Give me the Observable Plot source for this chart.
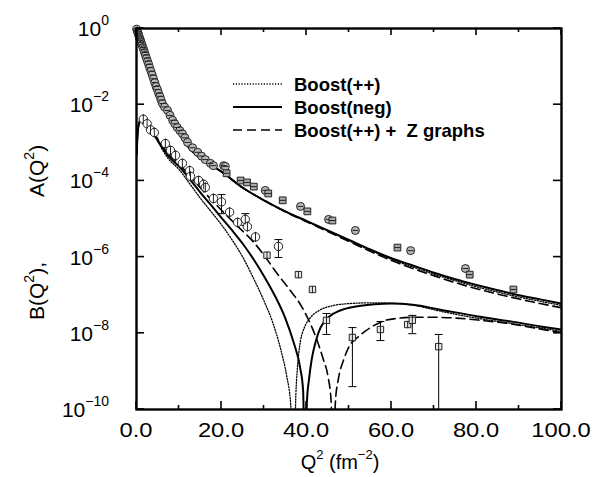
<!DOCTYPE html>
<html><head><meta charset="utf-8">
<script src="https://cdn.jsdelivr.net/npm/d3@7"></script>
<script src="https://cdn.jsdelivr.net/npm/@observablehq/plot@0.6"></script>
<style>
body{margin:0;background:#fff;}
#wrap{width:594px;height:477px;}
</style></head><body><div id="wrap"></div>
<script>
// ---------- data (y stored as log10) ----------
const xMajorTicks = [0, 20, 40, 60, 80, 100];
const xMinorTicks = [10, 30, 50, 70, 90];
const yTickExps = [0, -2, -4, -6, -8, -10];
const legendLabels = ["Boost(++)", "Boost(neg)", "Boost(++) +  Z graphs"];

// A(Q^2) theory curves
const aQ      = [0, 1, 2.5, 5, 7.5, 10, 12.5, 15, 17.5, 20, 25, 30, 35, 40, 45, 50, 55, 60, 65, 70, 75, 80, 85, 90, 95, 100];
const aNegLog = [0, -0.33, -0.85, -1.7, -2.3, -2.75, -3.15, -3.4, -3.58, -3.76, -4.18, -4.51, -4.8, -5.05, -5.3, -5.55, -5.8, -6.03, -6.22, -6.41, -6.58, -6.73, -6.87, -7.0, -7.11, -7.22];
const aPPLog  = [0, -0.33, -0.85, -1.7, -2.3, -2.75, -3.15, -3.4, -3.58, -3.76, -4.18, -4.51, -4.8, -5.06, -5.31, -5.57, -5.82, -6.06, -6.26, -6.45, -6.62, -6.78, -6.92, -7.05, -7.16, -7.27];
const aZLog   = [0, -0.33, -0.85, -1.7, -2.3, -2.75, -3.15, -3.4, -3.58, -3.76, -4.18, -4.51, -4.81, -5.07, -5.33, -5.59, -5.85, -6.09, -6.3, -6.49, -6.67, -6.83, -6.97, -7.1, -7.22, -7.33];

// B(Q^2) theory curves (each dips through a zero)
const bNegQ   = [0.05, 0.3, 0.7, 1.2, 1.8, 3, 5, 7.5, 10, 12.5, 15, 17.5, 20, 22.5, 25, 27.5, 30, 32.5, 35, 37, 38.5, 39.2, 39.7, 40.1, 40.6, 41.2, 42.2, 43.3, 44.8, 46.4, 49, 52, 56, 60, 65, 71.5, 80, 88.7, 95, 100];
const bNegLog = [-3.3, -2.7, -2.45, -2.37, -2.36, -2.55, -2.93, -3.35, -3.62, -3.95, -4.3, -4.63, -4.97, -5.3, -5.65, -6.05, -6.5, -7.0, -7.6, -8.25, -8.9, -9.5, -12, -9.8, -9.2, -8.7, -8.2, -7.85, -7.62, -7.48, -7.36, -7.29, -7.24, -7.22, -7.25, -7.38, -7.55, -7.7, -7.82, -7.9];
const bPPQ    = [0.05, 0.3, 0.7, 1.2, 1.8, 3, 5, 7.5, 10, 12.5, 15, 17.5, 20, 22.5, 25, 27.5, 30, 32, 34, 35.3, 36.3, 37, 37.5, 37.8, 38.1, 38.6, 39.5, 40.9, 43, 46.4, 50, 55, 60, 65, 71.5, 80, 88.7, 100];
const bPPLog  = [-3.3, -2.72, -2.46, -2.38, -2.37, -2.57, -2.97, -3.42, -3.7, -4.07, -4.45, -4.8, -5.15, -5.55, -6.0, -6.55, -7.15, -7.7, -8.45, -9.1, -9.9, -12, -9.6, -9.0, -8.6, -8.19, -7.85, -7.59, -7.4, -7.27, -7.22, -7.2, -7.21, -7.26, -7.42, -7.6, -7.75, -7.95];
const bZQ     = [0.05, 0.3, 0.7, 1.2, 1.8, 3, 5, 7.5, 10, 12.5, 15, 17.5, 20, 22.5, 25, 27.5, 30, 33, 36, 38.6, 40.5, 42.5, 44, 45, 45.8, 46.3, 46.8, 47.5, 48.7, 50, 52, 54, 55.8, 58, 62, 65, 70, 75, 81, 88, 94, 100];
const bZLog   = [-3.3, -2.7, -2.45, -2.36, -2.35, -2.53, -2.9, -3.3, -3.55, -3.87, -4.18, -4.48, -4.77, -5.05, -5.32, -5.6, -5.95, -6.42, -6.85, -7.25, -7.65, -8.19, -8.7, -9.1, -9.8, -12, -9.8, -9.2, -8.71, -8.35, -8.11, -7.93, -7.8, -7.68, -7.6, -7.58, -7.58, -7.6, -7.66, -7.75, -7.87, -7.98];

// A(Q^2) data
const aCircQ   = [0.05, 0.2, 0.35, 0.5, 0.65, 0.8, 0.95, 1.1, 1.3, 1.5, 1.7, 1.9, 2.1, 2.35, 2.6, 2.85, 3.1, 3.4, 3.7, 4.0, 4.3, 4.6, 4.9, 5.2, 5.5, 5.8, 6.1, 6.6, 7.3, 7.9, 8.5, 9.0, 9.6, 10.2, 10.8, 11.4, 12.0, 13.2, 14.4, 15.3, 16.2, 17.4, 18.1, 20.5, 20.9, 30.3, 38.6, 45.2, 51.5, 64.5, 77.4];
const aCircLog = [-0.02, -0.07, -0.12, -0.17, -0.22, -0.27, -0.32, -0.37, -0.43, -0.5, -0.56, -0.63, -0.7, -0.78, -0.86, -0.94, -1.03, -1.12, -1.22, -1.32, -1.42, -1.52, -1.6, -1.7, -1.78, -1.88, -1.97, -2.06, -2.15, -2.28, -2.41, -2.5, -2.6, -2.68, -2.76, -2.87, -2.99, -3.13, -3.25, -3.35, -3.44, -3.54, -3.6, -3.6, -3.62, -4.25, -4.67, -5.01, -5.30, -5.83, -6.30];
const aSqQ     = [21.2, 24.5, 26.0, 27.6, 31.0, 34.4, 40.2, 46.1, 61.4, 78.4, 88.7];
const aSqLog   = [-3.80, -3.99, -4.04, -4.15, -4.33, -4.51, -4.80, -5.04, -5.75, -6.46, -6.85];

// B(Q^2) data (errLo/errHi in log10, null = no visible bar)
const bCircQ     = [1.6, 2.5, 3.3, 4.2, 6.8, 8.0, 9.2, 10.8, 12.5, 12.7, 14.6, 15.8, 16.2, 18.1, 20.0, 21.9, 23.8, 25.6, 26.1, 28.0, 33.4];
const bCircLog   = [-2.38, -2.5, -2.66, -2.73, -3.02, -3.20, -3.33, -3.54, -3.73, -3.88, -3.99, -4.09, -4.17, -4.46, -4.55, -4.82, -5.09, -5.01, -5.20, -5.47, -5.72];
const bCircErrLo = [null, null, null, null, null, null, null, null, null, null, null, null, null, null, -4.86, null, null, -5.17, null, null, -6.01];
const bCircErrHi = [null, null, null, null, null, null, null, null, null, null, null, null, null, null, -4.36, null, null, -4.86, null, null, -5.54];
const bSqQ       = [30.7, 38.1, 41.4, 44.7, 50.8, 57.4, 63.8, 64.9, 71.1];
const bSqLog     = [-5.95, -6.46, -6.85, -7.66, -8.11, -7.90, -7.77, -7.66, -8.35];
const bSqErrLo   = [null, null, null, -8.03, -9.40, -8.19, null, -8.01, -10.5];
const bSqErrHi   = [null, null, null, -7.48, -7.85, -7.69, null, -7.53, -8.03];

// ---------- build tables ----------
const p10 = e => Math.pow(10, e);
const curve = (name, qs, ls) => qs.map((q, i) => ({curve: name, q, v: p10(ls[i])}));
const solidRows  = [...curve("A neg", aQ, aNegLog), ...curve("B neg", bNegQ, bNegLog)];
const dottedRows = [...curve("A pp", aQ, aPPLog), ...curve("B pp", bPPQ, bPPLog)];
const dashedRows = [...curve("A z", aQ, aZLog), ...curve("B z", bZQ, bZLog)];
const pts = (qs, ls) => qs.map((q, i) => ({q, v: p10(ls[i])}));
const aCirc = pts(aCircQ, aCircLog), aSq = pts(aSqQ, aSqLog);
const bCirc = pts(bCircQ, bCircLog), bSq = pts(bSqQ, bSqLog);
const errs = [];
bCircQ.forEach((q, i) => { if (bCircErrLo[i] !== null) errs.push({q, lo: p10(bCircErrLo[i]), hi: p10(bCircErrHi[i])}); });
bSqQ.forEach((q, i) => { if (bSqErrLo[i] !== null) errs.push({q, lo: p10(bSqErrLo[i]), hi: p10(bSqErrHi[i])}); });
const caps = errs.flatMap(e => [{q: e.q, v: e.hi}, ...(e.lo >= 1e-10 ? [{q: e.q, v: e.lo}] : [])]);

const hline = {draw(ctx, size) { const r = Math.sqrt(size / Math.PI); ctx.moveTo(-r, 0); ctx.lineTo(r, 0); }};
const vline = {draw(ctx, size) { const r = Math.sqrt(size / Math.PI); ctx.moveTo(0, -r); ctx.lineTo(0, r); }};

const FONT = "'Liberation Sans', Arial, Helvetica, sans-serif";
const chart = Plot.plot({
  width: 594, height: 477,
  marginLeft: 136, marginRight: 33, marginTop: 28, marginBottom: 68,
  style: {fontFamily: FONT, background: "white", color: "black"},
  x: {domain: [0, 100], axis: null},
  y: {type: "log", domain: [1e-10, 1], axis: null},
  marks: [
    Plot.line(dottedRows, {x: "q", y: "v", z: "curve", stroke: "black", strokeWidth: 1.3, strokeDasharray: "1.2,1.6", curve: "monotone-x", clip: true}),
    Plot.line(dashedRows, {x: "q", y: "v", z: "curve", stroke: "black", strokeWidth: 1.6, strokeDasharray: "9,5", curve: "monotone-x", clip: true}),
    Plot.line(solidRows, {x: "q", y: "v", z: "curve", stroke: "black", strokeWidth: 2, curve: "monotone-x", clip: true}),
    Plot.ruleX(errs, {x: "q", y1: "lo", y2: "hi", stroke: "black", strokeWidth: 1, clip: true}),
    Plot.dot(caps, {x: "q", y: "v", symbol: hline, r: 4, stroke: "black", strokeWidth: 1}),
    Plot.dot(aCirc, {x: "q", y: "v", r: 4, fill: "#b8b8b8", stroke: "#222", strokeWidth: 1}),
    Plot.dot(aCirc, {x: "q", y: "v", symbol: hline, r: 3, stroke: "#222", strokeWidth: 1}),
    Plot.dot(aSq, {x: "q", y: "v", symbol: "square", r: 3.8, fill: "#a8a8a8", stroke: "#222", strokeWidth: 1}),
    Plot.dot(aSq, {x: "q", y: "v", symbol: hline, r: 3, stroke: "#222", strokeWidth: 1}),
    Plot.dot(bCirc, {x: "q", y: "v", r: 4.2, fill: "white", stroke: "#222", strokeWidth: 1}),
    Plot.dot(bCirc, {x: "q", y: "v", symbol: vline, r: 5, stroke: "#222", strokeWidth: 1}),
    Plot.dot(bSq, {x: "q", y: "v", symbol: "square", r: 3.6, fill: "#e8e8e8", stroke: "#222", strokeWidth: 1}),
    Plot.dot(bSq, {x: "q", y: "v", symbol: vline, r: 3.6, stroke: "#222", strokeWidth: 1}),
    Plot.frame({stroke: "black", strokeWidth: 2.4})
  ]
});
document.getElementById("wrap").appendChild(chart);

// ---------- ticks, labels, legend placed with the Plot scales ----------
const sx = chart.scale("x"), sy = chart.scale("y");
const svg = d3.select(chart);
const X = v => sx.apply(v), Y = v => sy.apply(v);
const y0 = Y(1e-10), y1 = Y(1), x0 = X(0), x1 = X(100);
const g = svg.append("g").attr("stroke", "black").attr("fill", "none").attr("stroke-linecap", "butt");
const tick = (xa, ya, xb, yb) => g.append("line").attr("x1", xa).attr("y1", ya).attr("x2", xb).attr("y2", yb).attr("stroke-width", 1.6);
xMajorTicks.forEach(t => { tick(X(t), y0, X(t), y0 - 8); tick(X(t), y1, X(t), y1 + 7); });
xMinorTicks.forEach(t => { tick(X(t), y0, X(t), y0 - 4); tick(X(t), y1, X(t), y1 + 4); });
yTickExps.forEach(e => { const yy = Y(p10(e)); tick(x0, yy, x0 + 8, yy); tick(x1, yy, x1 - 8, yy); });

const T = svg.append("g").attr("fill", "black").attr("stroke", "none").style("font-family", FONT);
function stretch(sel, k) {
  sel.each(function () { const L = this.getComputedTextLength(); d3.select(this).attr("textLength", L * k).attr("lengthAdjust", "spacingAndGlyphs"); });
}
xMajorTicks.forEach(t => {
  const tx = T.append("text").attr("x", X(t)).attr("y", y0 + 28).attr("text-anchor", "middle").attr("font-size", 21).text(t.toFixed(1));
  stretch(tx, 1.13);
});
yTickExps.forEach(e => {
  const tx = T.append("text").attr("x", 109).attr("y", Y(p10(e)) + 8).attr("text-anchor", "end").attr("font-size", 21);
  tx.append("tspan").text("10");
  tx.append("tspan").attr("font-size", 14).attr("dy", -11).text(e === 0 ? "0" : "\u2212" + Math.abs(e));
});
// x label
const xl = T.append("text").attr("x", 340).attr("y", 469).attr("text-anchor", "middle").attr("font-size", 20);
xl.append("tspan").text("Q");
xl.append("tspan").attr("font-size", 13).attr("dy", -10).text("2");
xl.append("tspan").attr("dy", 10).text(" (fm");
xl.append("tspan").attr("font-size", 13).attr("dy", -10).text("\u22122");
xl.append("tspan").attr("dy", 10).text(")");
// y label (rotated, two parts)
function ylab(txt, yStart) {
  const t = T.append("text").attr("transform", `translate(44,${yStart}) rotate(-90)`).attr("text-anchor", "start").attr("font-size", 21);
  t.append("tspan").text(txt[0] + "(Q");
  t.append("tspan").attr("font-size", 14).attr("dy", -10).text("2");
  t.append("tspan").attr("dy", 10).text(")" + txt.slice(1));
}
ylab("B,", 320);
ylab("A", 197);

// legend
const legY = [84, 107, 130];
const dashes = ["1.2,1.6", null, "9,5"];
const widths = [1.3, 2, 1.6];
legendLabels.forEach((lab, i) => {
  const ln = g.append("line").attr("x1", 233).attr("x2", 282).attr("y1", legY[i]).attr("y2", legY[i]).attr("stroke-width", widths[i]);
  if (dashes[i]) ln.attr("stroke-dasharray", dashes[i]);
  T.append("text").attr("x", 294).attr("y", legY[i] + 6.5).attr("text-anchor", "start").attr("font-size", 18.5).attr("font-weight", "bold").attr("xml:space", "preserve").style("white-space", "pre").text(lab);
});
</script></body></html>
